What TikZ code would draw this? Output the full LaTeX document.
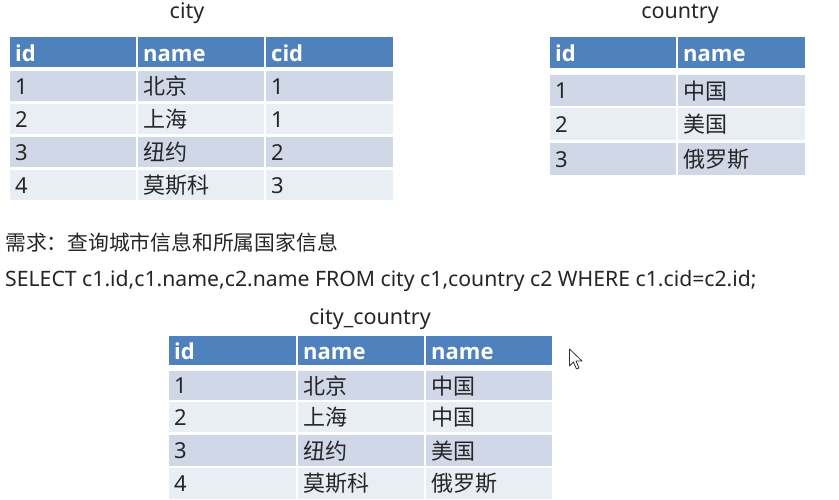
\documentclass[tikz,border=0pt]{standalone}
\usepackage{fontspec}
\setmainfont{Noto Sans}
\newfontfamily\cjk{Noto Sans CJK SC}
\newfontfamily\hdrfont{Open Sans}
\definecolor{hdr}{HTML}{4F81BD}
\definecolor{rowA}{HTML}{D0D8E8}
\definecolor{rowB}{HTML}{E9EDF4}
\definecolor{txt}{HTML}{262626}
\newcommand{\tcell}[7]{%
  \pgfmathsetmacro{\cw}{#4-#2-10}\pgfmathsetmacro{\ch}{#5-#3}%
  \node[#6, text width=\cw pt, minimum height=\ch pt] (#1) at (#2,#3) {#7};}
\tikzset{
  base/.style={anchor=north west, inner xsep=5pt, inner ysep=0pt, align=left, font=\fontsize{22}{24}\selectfont},
  hcell/.style={base, fill=hdr, text=white, font=\hdrfont\fontsize{22}{24}\selectfont\bfseries, text height=18pt, text depth=0pt},
  acell/.style={base, fill=rowA, text=txt},
  bcell/.style={base, fill=rowB, text=txt},
  ttl/.style={text=txt, font=\fontsize{21.5}{24}\selectfont, inner sep=0pt}
}
\begin{document}
\begin{tikzpicture}[x=1pt,y=-1pt]
\useasboundingbox[fill=white] (0,0) rectangle (839,500);
% city table
\node[ttl] (tcity) at (187,13.5) {city};
\tcell{c00}{10}{37}{136}{67}{hcell}{id}
\tcell{c01}{138}{37}{264}{67}{hcell}{name}
\tcell{c02}{266}{37}{393}{67}{hcell}{cid}
\tcell{c10}{10}{71}{136}{101}{acell}{1}
\tcell{c11}{138}{71}{264}{101}{acell}{\cjk 北京}
\tcell{c12}{266}{71}{393}{101}{acell}{1}
\tcell{c20}{10}{104}{136}{134}{bcell}{2}
\tcell{c21}{138}{104}{264}{134}{bcell}{\cjk 上海}
\tcell{c22}{266}{104}{393}{134}{bcell}{1}
\tcell{c30}{10}{137}{136}{167}{acell}{3}
\tcell{c31}{138}{137}{264}{167}{acell}{\cjk 纽约}
\tcell{c32}{266}{137}{393}{167}{acell}{2}
\tcell{c40}{10}{170}{136}{200}{bcell}{4}
\tcell{c41}{138}{170}{264}{200}{bcell}{\cjk 莫斯科}
\tcell{c42}{266}{170}{393}{200}{bcell}{3}
% country table
\node[ttl] (tcountry) at (680,13.5) {country};
\tcell{k00}{550}{37}{676}{68}{hcell}{id}
\tcell{k01}{678}{37}{805}{68}{hcell}{name}
\tcell{k10}{550}{75}{676}{106}{acell}{1}
\tcell{k11}{678}{75}{805}{106}{acell}{\cjk 中国}
\tcell{k20}{550}{108}{676}{140}{bcell}{2}
\tcell{k21}{678}{108}{805}{140}{bcell}{\cjk 美国}
\tcell{k30}{550}{143}{676}{175}{acell}{3}
\tcell{k31}{678}{143}{805}{175}{acell}{\cjk 俄罗斯}
% text lines
\node[anchor=west, inner sep=0pt, text=txt, font=\cjk\fontsize{20.8}{22}\selectfont] (req) at (5,243) {需求：查询城市信息和所属国家信息};
\node[anchor=west, inner sep=0pt, text=txt, font=\fontsize{21.2}{22}\selectfont] (sql) at (5,281) {SELECT c1.id,c1.name,c2.name FROM city c1,country c2 WHERE c1.cid=c2.id;};
% result table
\node[ttl] (tcc) at (370,319) {city\_country};
\tcell{r00}{169}{336}{296}{365}{hcell}{id}
\tcell{r01}{298}{336}{424}{365}{hcell}{name}
\tcell{r02}{426}{336}{552}{365}{hcell}{name}
\tcell{r10}{169}{371}{296}{400}{acell}{1}
\tcell{r11}{298}{371}{424}{400}{acell}{\cjk 北京}
\tcell{r12}{426}{371}{552}{400}{acell}{\cjk 中国}
\tcell{r20}{169}{402}{296}{432}{bcell}{2}
\tcell{r21}{298}{402}{424}{432}{bcell}{\cjk 上海}
\tcell{r22}{426}{402}{552}{432}{bcell}{\cjk 中国}
\tcell{r30}{169}{435}{296}{466}{acell}{3}
\tcell{r31}{298}{435}{424}{466}{acell}{\cjk 纽约}
\tcell{r32}{426}{435}{552}{466}{acell}{\cjk 美国}
\tcell{r40}{169}{468}{296}{499}{bcell}{4}
\tcell{r41}{298}{468}{424}{499}{bcell}{\cjk 莫斯科}
\tcell{r42}{426}{468}{552}{499}{bcell}{\cjk 俄罗斯}
% mouse cursor
\draw[fill=white, draw=black!80, line width=0.8pt, line join=round]
  (569.5,349) -- (569.5,366) -- (573.5,362) -- (576.5,369) -- (579,368) -- (576,361) -- (582,361) -- cycle;
\end{tikzpicture}
\end{document}
